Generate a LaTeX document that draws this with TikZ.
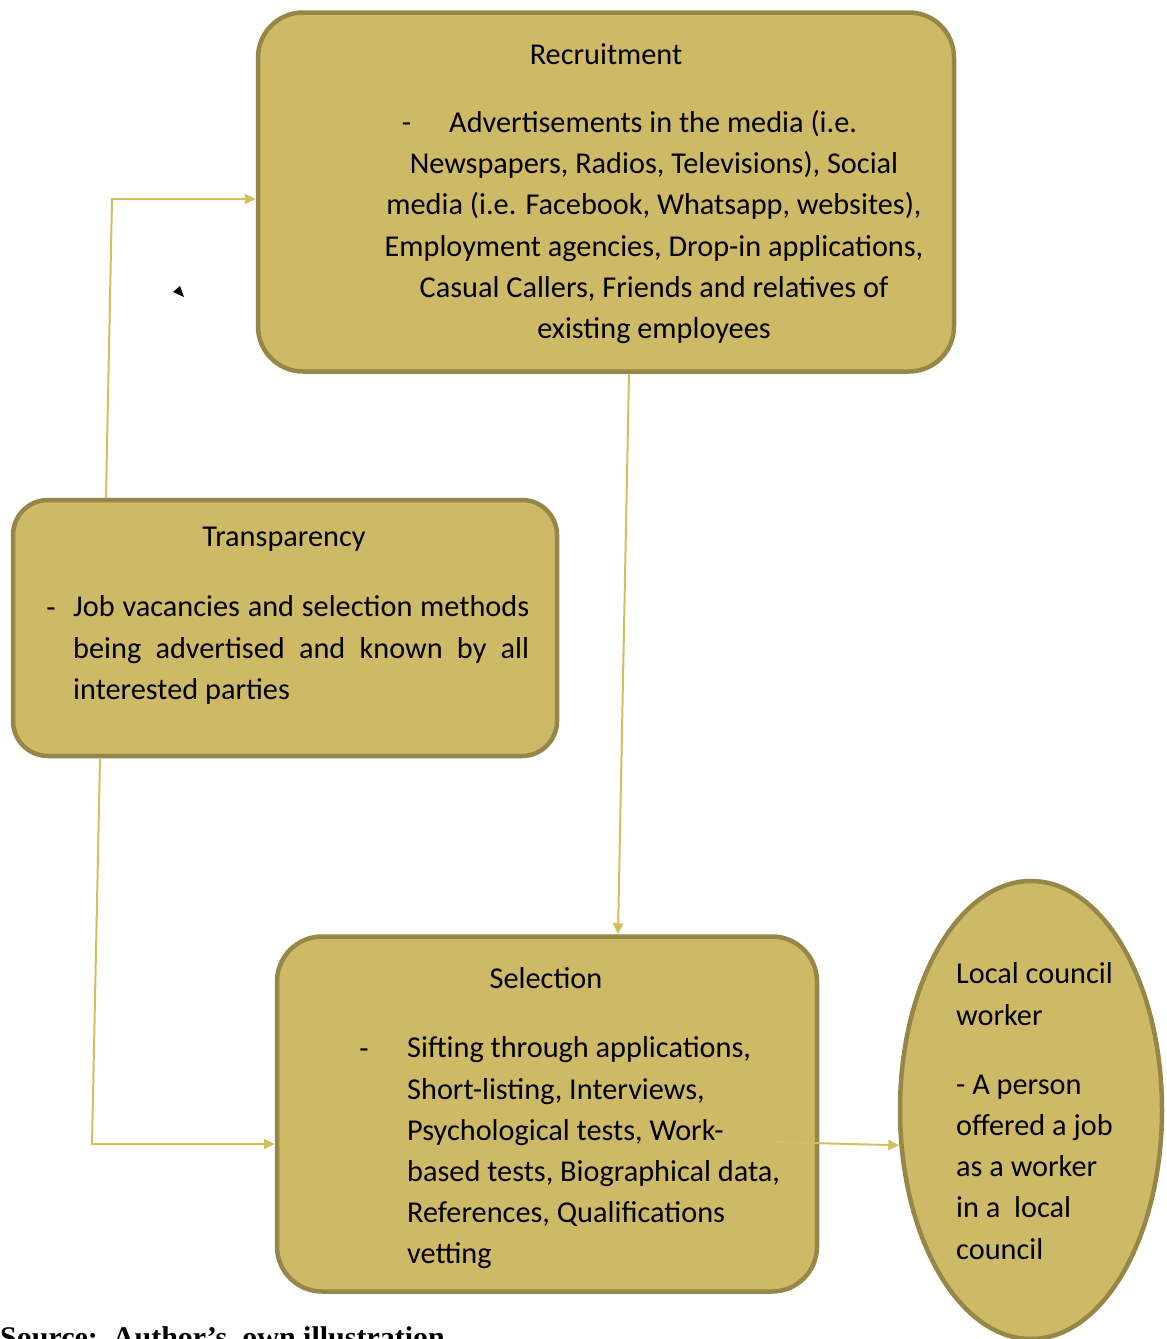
\documentclass[tikz,border=0pt]{standalone}
\usepackage{fontspec}
\setmainfont{Carlito}
\newfontfamily\srcfont{Liberation Serif}
\usetikzlibrary{shapes.geometric,arrows.meta}
\definecolor{boxfill}{RGB}{205,185,102}
\definecolor{boxline}{RGB}{150,135,72}
\definecolor{linkcol}{RGB}{212,190,96}

\begin{document}
\begin{tikzpicture}
    [x = 1pt, y = -1pt,
     every node/.style = {inner sep = 0pt, font = \fontsize{30.3}{41.2}\selectfont},
     box/.style = {rectangle, draw = boxline, fill = boxfill, line width = 4.5pt},
     link/.style = {draw = linkcol, line width = 2pt, -{Triangle[length=11pt,width=10pt]}}]
    \useasboundingbox (0,0) rectangle (1167,1339);

    % boxes
    \node[box, rounded corners = 45pt, minimum width = 696pt, minimum height = 359pt] (rec) at (606,192) {};
    \node[box, rounded corners = 35pt, minimum width = 544pt, minimum height = 256pt] (trans) at (285,628) {};
    \node[box, rounded corners = 45pt, minimum width = 540pt, minimum height = 355pt] (sel) at (547,1114) {};
    \node[box, ellipse, minimum width = 262pt, minimum height = 458pt] (lcw) at (1031,1110) {};

    % texts
    \node[anchor = base] (rectitle) at (606,64) {Recruitment};
    \node[align = center] (recbody) at (654,227)
      {-\hspace{38pt}Advertisements in the media (i.e.\hspace*{49pt}\\
       Newspapers, Radios, Televisions), Social\\
       media (i.e. Facebook, Whatsapp, websites),\\
       Employment agencies, Drop-in applications,\\
       Casual Callers, Friends and relatives of\\
       existing employees};

    \node[anchor = base] (transtitle) at (284,546) {Transparency};
    \node[anchor = base] (transdash) at (51,617) {-};
    \node[anchor = west, text width = 456pt, align = justify] (transbody) at (73,650)
      {Job vacancies and selection methods\linebreak
       being advertised and known by all\linebreak interested parties};

    \node[anchor = base] (seltitle) at (546,988) {Selection};
    \node[anchor = base] (seldash) at (364,1058) {-};
    \node[anchor = west, align = left] (selbody) at (407,1153)
      {Sifting through applications,\\
       Short-listing, Interviews,\\
       Psychological tests, Work-\\
       based tests, Biographical data,\\
       References, Qualifications\\
       vetting};

    \node[anchor = west, align = left] (lcwtext) at (956,1111)
      {Local council\\
       worker\\[28pt]
       - A person\\
       offered a job\\
       as a worker\\
       in a\ \ local\\
       council};

    % connectors
    \coordinate (tl) at (112,199);
    \coordinate (bl) at (92,1144);
    \draw[link] ([xshift=-179pt]trans.north) -- (tl) -- (rec.west |- tl);
    \draw[link] ([xshift=23pt]rec.south) -- ([xshift=71pt]sel.north);
    \draw[link] ([xshift=-185pt]trans.south) -- (bl) -- (sel.west |- bl);
    \draw[link] ([shift={(-47pt,-28pt)}]sel.east) -- (lcw.195);

    \fill (173,292) -- (180,286) -- (184,297) -- cycle;

    \node[anchor = base west, font = \srcfont\bfseries\fontsize{30}{36}\selectfont] (src) at (0,1347)
      {Source:\ \ Author’s\ \ own illustration};
\end{tikzpicture}
\end{document}
